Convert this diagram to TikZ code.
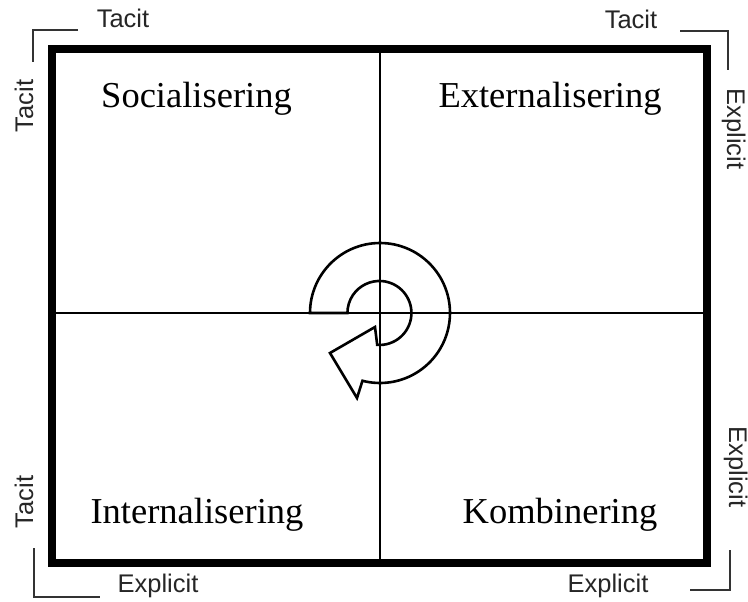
\documentclass[tikz,border=0pt]{standalone}
\usepackage{fontspec}
\setmainfont{Liberation Serif}
\newfontfamily\labelsans{Liberation Sans}
\begin{document}
\begin{tikzpicture}[x=1pt,y=-1pt,
  quad/.style={font=\fontsize{36.5}{40}\selectfont, text=black, inner sep=0pt, anchor=base},
  axislabel/.style={font=\labelsans\fontsize{25.5}{28}\selectfont, text=black!85, inner sep=0pt, anchor=base},
  bracket/.style={draw=black!80, line width=1.3pt},
  frame/.style={draw=black, line width=7.5pt, line join=miter},
  cross/.style={draw=black, line width=1.3pt},
  cycle arrow/.style={draw=black, line width=2.6pt, line join=miter}]
\useasboundingbox (0,0) rectangle (748,602);
% frame and cross
\draw[cross] (380,49) -- (380,563);
\draw[cross] (52,313) -- (707,313);
\draw[frame] (52,49) rectangle (707,563);
% circular arrow
\draw[cycle arrow] (310,313) arc[start angle=180, end angle=-104.5, radius=70pt]
  -- (357,398) -- (330,353) -- (375,327) -- (377.2,344.9)
  arc[start angle=-94, end angle=180, radius=32pt] -- cycle;
% quadrant labels
\node[quad] (soc) at (196.5,108) {Socialisering};
\node[quad] (ext) at (550,108) {Externalisering};
\node[quad] (int) at (197,523) {Internalisering};
\node[quad] (kom) at (560,523) {Kombinering};
% axis labels
\node[axislabel] (tTL) at (123,28) {Tacit};
\node[axislabel] (tTR) at (631,29) {Tacit};
\node[axislabel, rotate=90] (tL1) at (33,106) {Tacit};
\node[axislabel, rotate=90] (tL2) at (33,502) {Tacit};
\node[axislabel, rotate=-90] (eR1) at (727,129) {Explicit};
\node[axislabel, rotate=-90] (eR2) at (729,467) {Explicit};
\node[axislabel] (eB1) at (158,592) {Explicit};
\node[axislabel] (eB2) at (608,592) {Explicit};
% corner brackets
\draw[bracket] (78,30) -- (33,30) -- (33,62);
\draw[bracket] (680,31) -- (728,31) -- (728,70);
\draw[bracket] (34,548) -- (34,597) -- (100,597);
\draw[bracket] (730,550) -- (730,590) -- (690,590);
\end{tikzpicture}
\end{document}
